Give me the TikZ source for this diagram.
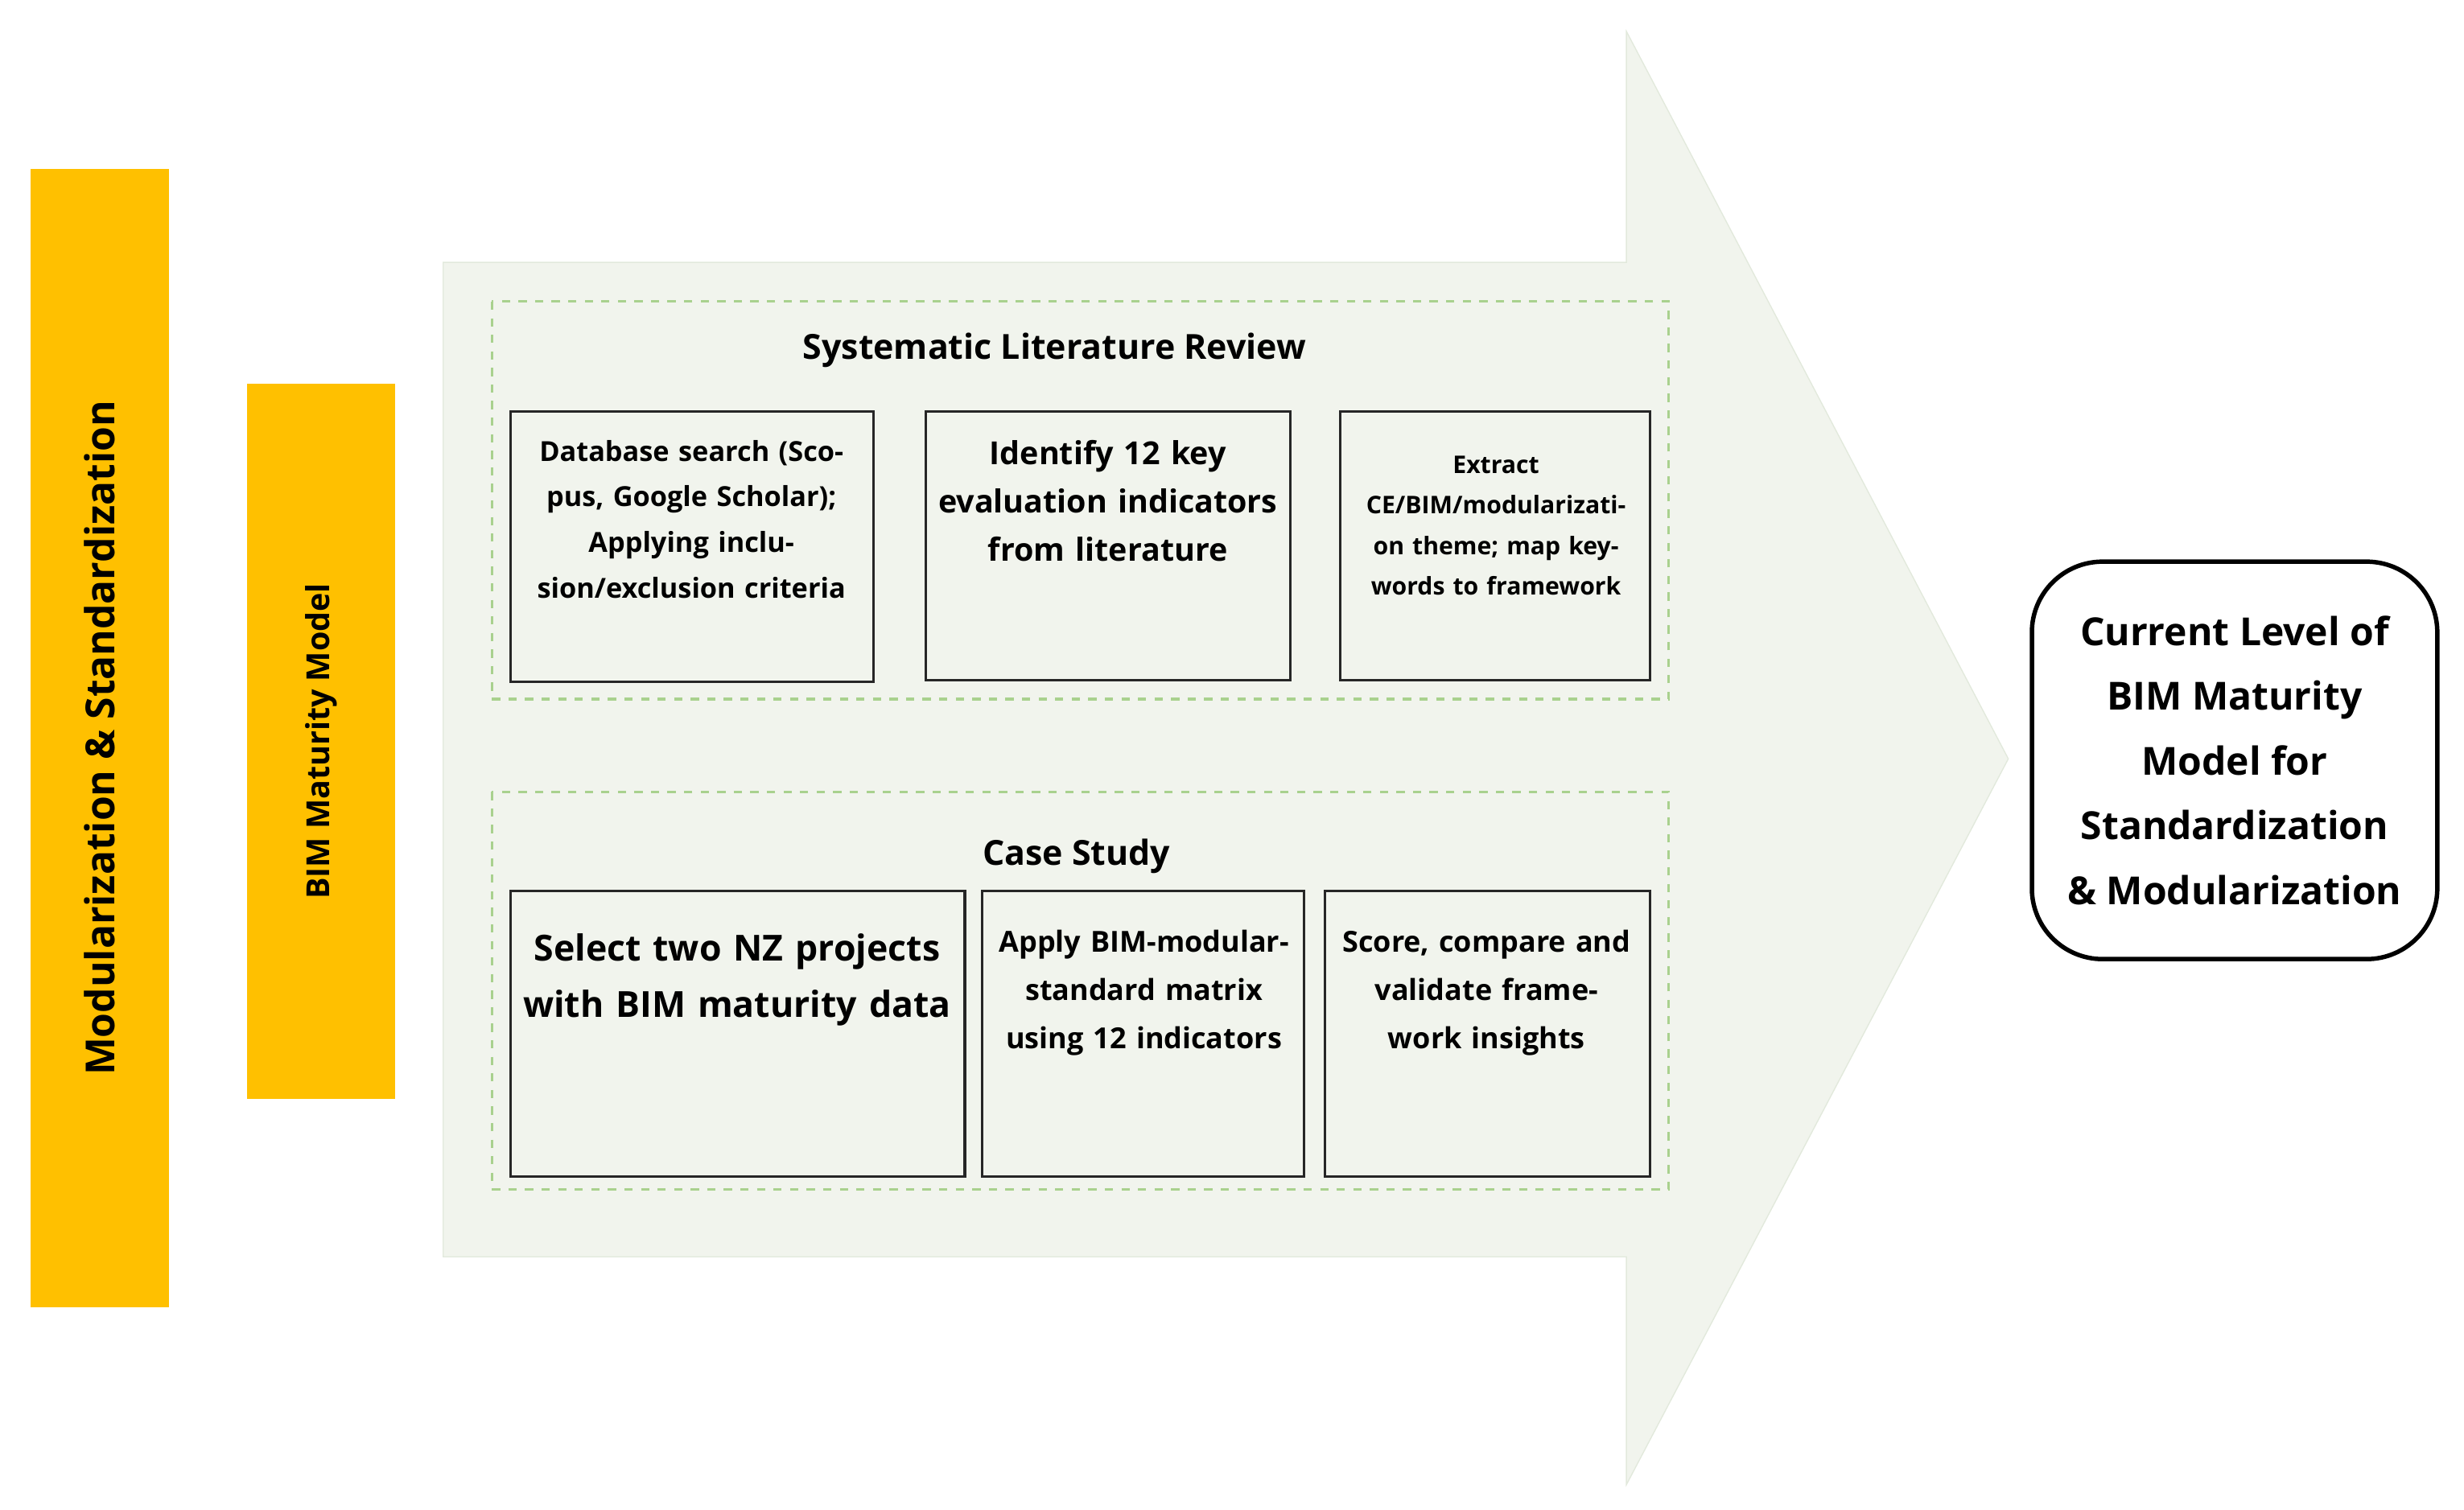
\documentclass[tikz,border=0pt]{standalone}
\usepackage{fontspec}
\setmainfont{Open Sans}
\begin{document}
\begin{tikzpicture}[x=0.02cm,y=-0.02cm,
  bar/.style={fill=orange!0!yellow, fill={rgb,255:red,255;green,192;blue,0}, draw=none},
  dbox/.style={draw={rgb,255:red,169;green,209;blue,142}, dashed, line width=0.9pt},
  sbox/.style={draw=black!85, line width=0.9pt, fill={rgb,255:red,241;green,244;blue,237}},
  txt/.style={font=\fontsize{10.5}{17}\selectfont\bfseries, align=center, text width=#1},
  ]
\useasboundingbox (0,0) rectangle (1568,961);
\definecolor{arr}{RGB}{241,244,237}
% big arrow
\path[fill=arr, draw={rgb,255:red,226;green,233;blue,220}] (282,167) -- (1035,167) -- (1035,20) -- (1278,483) -- (1035,945) -- (1035,800) -- (282,800) -- cycle;
% bars
\node[bar, minimum width=88*0.02cm, minimum height=725*0.02cm, inner sep=0, anchor=north west] (b1) at (19,107) {};
\node[rotate=90, font=\fontsize{14.5}{17}\selectfont\bfseries] (t1) at (b1.center) {Modularization \& Standardization};
\node[bar, minimum width=94*0.02cm, minimum height=455*0.02cm, inner sep=0, anchor=north west] (b2) at (157,244) {};
\node[rotate=90, font=\fontsize{11.5}{14}\selectfont\bfseries] (t2) at (b2.center) {BIM Maturity Model};
% dashed groups
\draw[dbox] (313,192) rectangle (1062,445);
\node[font=\fontsize{12.5}{15}\selectfont\bfseries] (slr) at (671,223) {Systematic Literature Review};
\draw[dbox] (313,504) rectangle (1062,757);
\node[font=\fontsize{12.5}{15}\selectfont\bfseries] (cs) at (685,545) {Case Study};
% boxes row 1
\draw[sbox] (325,262) rectangle (556,434);
\node[txt=4.4cm, anchor=north, font=\fontsize{10}{16.5}\selectfont\bfseries] (a1) at (440,274) {Database search (Scopus, Google Scholar); Applying inclusion/exclusion criteria};
\draw[sbox] (589,262) rectangle (821,433);
\node[txt=4.6cm, anchor=north, font=\fontsize{11.5}{17.5}\selectfont\bfseries] (a2) at (705,274) {Identify 12 key evaluation indicators from literature};
\draw[sbox] (853,262) rectangle (1050,433);
\node[txt=3.9cm, anchor=north, font=\fontsize{8.8}{14.7}\selectfont\bfseries] (a3) at (952,284) {Extract CE/BIM/modularizati\-on theme; map keywords to framework};
% boxes row 2
\draw[sbox] (325,567) rectangle (614,749);
\node[txt=5.7cm, anchor=north, font=\fontsize{13}{20.5}\selectfont\bfseries] (c1) at (469,588) {Select two NZ projects with BIM maturity data};
\draw[sbox] (625,567) rectangle (830,749);
\node[txt=4.0cm, anchor=north, font=\fontsize{10.5}{17.5}\selectfont\bfseries] (c2) at (728,586) {Apply BIM-modular-standard matrix using 12 indicators};
\draw[sbox] (843,567) rectangle (1050,749);
\node[txt=4.1cm, anchor=north, font=\fontsize{10.5}{17.5}\selectfont\bfseries] (c3) at (946,586) {Score, compare and validate framework insights};
% result
\node[draw=black, line width=1.6pt, rounded corners=0.9cm, minimum width=258*0.02cm, minimum height=253*0.02cm, align=center, font=\fontsize{14}{23.5}\selectfont\bfseries] (res) at (1422,484) {Current Level of\\BIM Maturity\\Model for\\Standardization\\\& Modularization};
\end{tikzpicture}
\end{document}
